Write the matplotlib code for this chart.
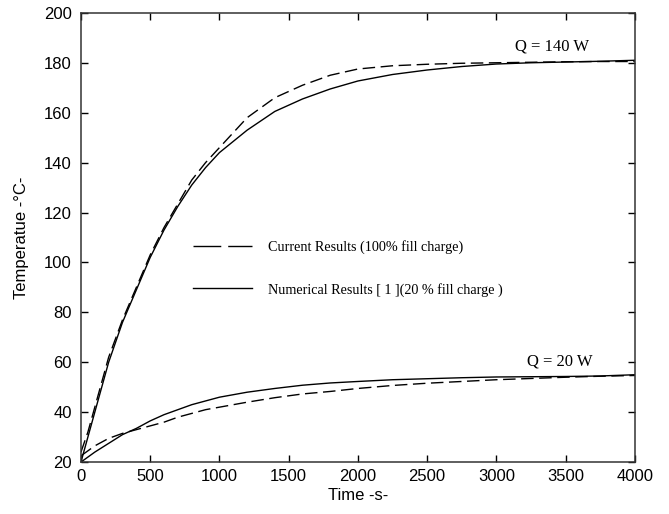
import numpy as np
import matplotlib.pyplot as plt
from matplotlib.lines import Line2D

# time points (s)
t = [0, 50, 100, 200, 300, 400, 500, 600, 700, 800, 900, 1000, 1200, 1400,
     1600, 1800, 2000, 2250, 2500, 2750, 3000, 3250, 3500, 3750, 4000]

# Q = 140 W
cur_140 = [24, 32, 42, 62, 77, 90, 103, 114, 123.5, 133, 140, 146, 158, 166,
           171, 175, 177.5, 178.8, 179.4, 179.8, 180, 180.2, 180.4, 180.5, 180.5]
num_140 = [20, 30, 40, 60, 76, 89, 102, 113, 122.5, 131, 138, 144, 153, 160.5,
           165.5, 169.5, 172.7, 175.3, 177.1, 178.5, 179.5, 180, 180.3, 180.6, 181]

# Q = 20 W
cur_20 = [22.5, 24.5, 26.5, 29.5, 31.5, 33, 34.5, 36, 38, 39.5, 41, 42, 44, 45.8,
          47.3, 48.3, 49.5, 50.7, 51.6, 52.3, 53, 53.5, 54, 54.4, 54.7]
num_20 = [20, 22, 24, 27.5, 31, 33.5, 36.5, 39, 41, 43, 44.5, 46, 48, 49.5,
          50.8, 51.7, 52.3, 53, 53.4, 53.8, 54.1, 54.2, 54.3, 54.5, 55]

xticks = [0, 500, 1000, 1500, 2000, 2500, 3000, 3500, 4000]
yticks = [20, 40, 60, 80, 100, 120, 140, 160, 180, 200]

sans = 'Liberation Sans'
serif = 'Liberation Serif'

fig = plt.figure(figsize=(6.69, 5.14), dpi=100)
ax = fig.add_axes([0.121, 0.101, 0.828, 0.874])

dash = (0, (9, 4))
ax.plot(t, cur_140, color='black', lw=1.0, linestyle=dash)
ax.plot(t, num_140, color='black', lw=1.0)
ax.plot(t, cur_20, color='black', lw=1.0, linestyle=dash)
ax.plot(t, num_20, color='black', lw=1.0)

ax.set_xlim(0, 4000)
ax.set_ylim(20, 200)
ax.set_xticks(xticks)
ax.set_yticks(yticks)
ax.tick_params(direction='in', top=True, right=True, length=5, width=1,
               labelsize=12)
ax.tick_params(axis='y', pad=6.5)
ax.tick_params(axis='x', pad=5)
for lab in ax.get_xticklabels() + ax.get_yticklabels():
    lab.set_fontfamily(sans)
for s in ax.spines.values():
    s.set_linewidth(1.1)
    s.set_color('#333333')

ax.set_xlabel('Time -s-', fontfamily=sans, fontsize=12, labelpad=3)
ax.set_ylabel('Temperatue -°C-', fontfamily=sans, fontsize=12, labelpad=11)

ax.text(3134, 185, 'Q = 140 W', fontfamily=serif, fontsize=12)
ax.text(3220, 58.5, 'Q = 20 W', fontfamily=serif, fontsize=12)

# legend handles: long dashes like the original key
h1 = Line2D([], [], color='black', lw=1.0, linestyle=(0, (20, 5)))
h2 = Line2D([], [], color='black', lw=1.0)
ax.legend([h1, h2],
          ['Current Results (100% fill charge)',
           'Numerical Results [ 1 ](20 % fill charge )'],
          loc='center left', bbox_to_anchor=(0.179, 0.431), frameon=False,
          handlelength=4.2, handletextpad=1.1, labelspacing=2.0,
          prop={'family': serif, 'size': 10.2})

fig.savefig('out.png', dpi=100)
